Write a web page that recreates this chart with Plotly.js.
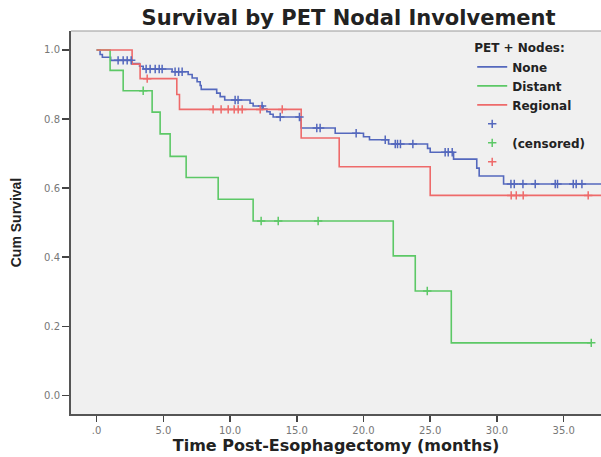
<!DOCTYPE html>
<html><head><meta charset="utf-8">
<script src="https://cdn.plot.ly/plotly-3.0.1.min.js"></script>
<style>html,body{margin:0;padding:0;background:#fff}</style>
</head><body><div id="chart" style="width:601px;height:457px"></div>
<script>
// ---- data ----
const groupNames = ["None", "Distant", "Regional"];
const groupColors = ["#5468bd", "#5cc866", "#ee6a6a"];

// None (blue)
const noneEventTimes = [0.26,0.43,1.05,2.66,3.22,3.49,5.66,6.86,7.16,7.53,7.76,7.84,9.0,9.26,9.6,11.5,11.73,12.48,12.76,13.0,13.23,15.26,15.33,17.88,20.0,20.45,21.88,24.8,25.0,26.75,28.49,28.67,30.5];
const noneSurvival   = [0.987,0.979,0.970,0.961,0.953,0.945,0.937,0.929,0.919,0.908,0.897,0.886,0.875,0.865,0.855,0.846,0.838,0.829,0.821,0.814,0.806,0.797,0.774,0.759,0.749,0.740,0.728,0.715,0.704,0.684,0.658,0.635,0.612];
const noneCensored   = [1.61,1.99,2.29,2.59,3.71,4.01,4.39,4.69,4.91,5.88,6.15,6.41,10.38,10.6,12.4,13.76,15.2,16.5,16.75,19.45,21.63,22.38,22.55,22.77,23.7,26.12,26.35,26.65,31.05,31.3,31.95,32.87,34.37,34.54,35.72,35.94,36.37,39.5];

// Distant (green)
const distantEventTimes = [1.01,1.99,4.16,4.76,5.51,6.71,9.11,11.73,22.23,23.88,26.58];
const distantSurvival   = [0.941,0.882,0.820,0.757,0.692,0.631,0.568,0.505,0.404,0.302,0.152];
const distantCensored   = [3.49,12.33,13.61,16.6,24.78,37.07];

// Regional (red)
const regionalEventTimes = [2.66,3.26,6.01,6.21,15.33,18.18,25.0];
const regionalSurvival   = [0.959,0.917,0.871,0.828,0.745,0.662,0.579];
const regionalCensored   = [3.79,8.73,9.33,9.86,10.31,10.61,10.91,12.26,13.91,31.07,31.45,31.97,36.84,39.5];

const xTickVals = [0,5,10,15,20,25,30,35];
const xTickText = [".0","5.0","10.0","15.0","20.0","25.0","30.0","35.0"];
const yTickVals = [0,0.2,0.4,0.6,0.8,1.0];

// ---- build traces ----
function survAt(times, surv, t){
  let s = 1;
  for (let i=0;i<times.length;i++){ if (times[i] <= t) s = surv[i]; }
  return s;
}
const series = [
  [noneEventTimes, noneSurvival, noneCensored],
  [distantEventTimes, distantSurvival, distantCensored],
  [regionalEventTimes, regionalSurvival, regionalCensored]
];
const traces = [];
series.forEach((s,i)=>{
  const [et, sv, ce] = s;
  const last = Math.max(et[et.length-1], ce[ce.length-1]);
  traces.push({
    x: [0].concat(et, [last]),
    y: [1].concat(sv, [sv[sv.length-1]]),
    type:'scatter', mode:'lines', line:{shape:'hv', color:groupColors[i], width:1.6},
    name: groupNames[i]
  });
});
const censorNames = [" ", "(censored)", "  "];
series.forEach((s,i)=>{
  const [et, sv, ce] = s;
  traces.push({
    x: ce, y: ce.map(t=>survAt(et, sv, t)),
    type:'scatter', mode:'markers',
    marker:{symbol:'cross-thin', size:6, color:groupColors[i], line:{color:groupColors[i], width:1.5}},
    name: censorNames[i]
  });
});

const wide = 'DejaVu Sans, Verdana, sans-serif';
const layout = {
  width:601, height:457,
  margin:{l:71, r:0, t:31, b:43},
  paper_bgcolor:'#ffffff', plot_bgcolor:'#f0f0f0',
  font:{family:wide, color:'#333'},
  title:{text:'<b>Survival by PET Nodal Involvement</b>', font:{size:21, color:'#222', family:wide},
         x:0.58, xref:'container', xanchor:'center', y:0.962, yref:'container', yanchor:'middle'},
  xaxis:{range:[-1.92, 37.8], tickvals:xTickVals, ticktext:xTickText, ticks:'outside', ticklen:6, tickwidth:1.5, tickcolor:'#444',
         showline:true, linecolor:'#555', linewidth:2, showgrid:false, zeroline:false,
         tickfont:{size:10, color:'#777', family:wide},
         title:{text:'<b>Time Post-Esophagectomy (months)</b>', font:{size:16, color:'#222', family:wide}, standoff:4}},
  yaxis:{range:[-0.054, 1.055], tickvals:yTickVals, tickformat:'.1f', ticks:'outside', ticklen:7, tickwidth:1.5, tickcolor:'#444',
         showline:true, linecolor:'#555', linewidth:2, showgrid:false, zeroline:false,
         tickfont:{size:10, color:'#777', family:wide},
         title:{text:'<b>Cum Survival</b>', font:{size:14, color:'#222', family:'Liberation Sans Narrow, Liberation Sans, Arial, sans-serif'}, standoff:19}},
  showlegend:true,
  legend:{x:0.757, y:0.985, xanchor:'left', yanchor:'top', bgcolor:'rgba(0,0,0,0)', itemwidth:30,
          font:{size:12, color:'#222', family:wide, weight:'bold'},
          title:{text:'<b>PET + Nodes:</b>', font:{size:12, color:'#222', family:wide}}, traceorder:'normal'},
  shapes:[{type:'line', xref:'paper', yref:'paper', x0:0, x1:1, y0:1, y1:1, line:{color:'#999', width:1}}]
};
Plotly.newPlot('chart', traces, layout, {staticPlot:true, displayModeBar:false});
</script></body></html>
